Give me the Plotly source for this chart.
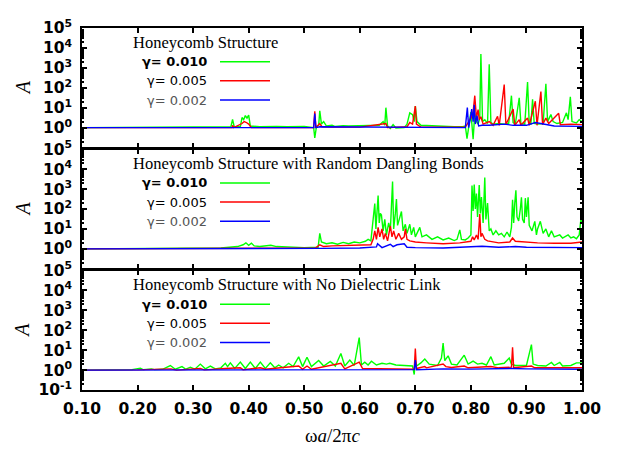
import plotly.graph_objects as go
from plotly.subplots import make_subplots

# ---------------- data (x = omega a / 2 pi c, A) ----------------
x_ticks = [0.10, 0.20, 0.30, 0.40, 0.50, 0.60, 0.70, 0.80, 0.90, 1.00]
x_ticklabels = ["0.10", "0.20", "0.30", "0.40", "0.50", "0.60", "0.70", "0.80", "0.90", "1.00"]
y_ticks = [1e-1, 1e0, 1e1, 1e2, 1e3, 1e4, 1e5]
y_ticklabels = ["10<sup>-1</sup>", "10<sup>0</sup>", "10<sup>1</sup>", "10<sup>2</sup>",
                "10<sup>3</sup>", "10<sup>4</sup>", "10<sup>5</sup>"]

panel_titles = ["Honeycomb Structure",
                "Honeycomb Structure with Random Dangling Bonds",
                "Honeycomb Structure with No Dielectric Link"]
series_names = ["γ= 0.010", "γ= 0.005", "γ= 0.002"]
series_colors = ["#00ff00", "#ff0000", "#0000ff"]

# Panel 1: Honeycomb Structure
p1_g010 = [(0.10, 1.0), (0.30, 1.02), (0.36, 1.05), (0.368, 1.1), (0.371, 2.6), (0.374, 1.1),
           (0.385, 1.1), (0.388, 3.2), (0.391, 2.5), (0.394, 4.0), (0.397, 3.0), (0.400, 4.2),
           (0.403, 1.2), (0.42, 1.1), (0.45, 1.15), (0.47, 1.1), (0.50, 1.15), (0.517, 1.0),
           (0.519, 0.3), (0.522, 1.1), (0.526, 1.3), (0.528, 7.0), (0.531, 1.5), (0.535, 2.0),
           (0.54, 1.2), (0.55, 1.3), (0.555, 1.15), (0.57, 1.25), (0.58, 1.2), (0.60, 1.25),
           (0.62, 1.2), (0.635, 1.3), (0.642, 2.0), (0.645, 1.3), (0.647, 10.0), (0.650, 1.2),
           (0.655, 0.9), (0.66, 1.4), (0.665, 0.95), (0.68, 1.0), (0.685, 1.5), (0.69, 5.5),
           (0.695, 4.5), (0.698, 2.0), (0.700, 12.0), (0.703, 2.0), (0.71, 1.3), (0.73, 1.2),
           (0.75, 1.2), (0.77, 1.1), (0.785, 1.1), (0.79, 1.2), (0.793, 0.28), (0.797, 1.5),
           (0.800, 6.0), (0.804, 0.26), (0.807, 5.0), (0.810, 2.0), (0.813, 1.5), (0.816, 3.0),
           (0.818, 5000.0), (0.821, 2.0), (0.825, 2.5), (0.830, 1.6), (0.833, 1500.0),
           (0.836, 1.8), (0.84, 1.5), (0.85, 1.6), (0.86, 1.5), (0.868, 1.6), (0.873, 40.0),
           (0.876, 1.8), (0.88, 1.5), (0.887, 31.0), (0.890, 1.6), (0.897, 1.5), (0.902, 195.0),
           (0.905, 1.6), (0.908, 1.5), (0.911, 26.0), (0.914, 1.6), (0.92, 1.5), (0.93, 1.6),
           (0.935, 160.0), (0.938, 2.0), (0.941, 3.0), (0.944, 4.5), (0.948, 2.0), (0.955, 1.6),
           (0.965, 1.8), (0.972, 5.5), (0.975, 2.5), (0.979, 35.0), (0.982, 2.0), (0.99, 1.7),
           (0.995, 2.5), (1.00, 2.0)]
p1_r005 = [(0.10, 1.0), (0.37, 1.0), (0.371, 1.3), (0.373, 1.0), (0.388, 1.6), (0.392, 2.0),
           (0.396, 1.8), (0.400, 1.5), (0.405, 1.0), (0.517, 1.0), (0.519, 6.6), (0.521, 1.0),
           (0.528, 1.6), (0.532, 1.1), (0.55, 1.05), (0.60, 1.05), (0.647, 1.6), (0.650, 1.0),
           (0.685, 1.1), (0.690, 1.8), (0.695, 1.5), (0.700, 12.0), (0.702, 1.5), (0.71, 1.05),
           (0.79, 1.05), (0.793, 1.5), (0.800, 3.0), (0.804, 6.0), (0.807, 40.0), (0.810, 3.0),
           (0.813, 8.0), (0.815, 2.5), (0.818, 3.5), (0.822, 1.5), (0.833, 2.0), (0.84, 1.3),
           (0.848, 3.7), (0.851, 1.3), (0.860, 145.0), (0.863, 1.4), (0.873, 5.0), (0.876, 8.5),
           (0.879, 1.3), (0.887, 2.5), (0.890, 1.3), (0.902, 3.0), (0.905, 1.3), (0.916, 21.0),
           (0.919, 1.3), (0.926, 65.0), (0.929, 1.4), (0.935, 3.0), (0.94, 1.6), (0.958, 5.2),
           (0.961, 1.4), (0.98, 1.5), (1.00, 1.4)]
p1_b002 = [(0.10, 1.0), (0.517, 1.0), (0.519, 5.0), (0.521, 1.0), (0.528, 1.1), (0.79, 1.0),
           (0.7936, 10.0), (0.796, 1.0), (0.799, 3.0), (0.8015, 8.5), (0.804, 2.0), (0.806, 13.8),
           (0.808, 1.5), (0.811, 4.0), (0.814, 1.2), (0.82, 1.3), (0.833, 1.3), (0.86, 1.5),
           (0.876, 1.3), (0.90, 1.3), (0.916, 1.8), (0.926, 1.6), (0.95, 1.2), (1.00, 1.15)]

# Panel 2: with Random Dangling Bonds
p2_g010 = [(0.10, 1.0), (0.20, 1.02), (0.30, 1.05), (0.35, 1.1), (0.38, 1.3), (0.39, 1.6),
           (0.395, 2.0), (0.40, 1.5), (0.405, 1.9), (0.41, 1.4), (0.42, 1.3), (0.44, 1.5),
           (0.45, 1.3), (0.47, 1.2), (0.50, 1.15), (0.525, 1.2), (0.528, 6.0), (0.531, 2.2),
           (0.54, 1.8), (0.55, 2.0), (0.56, 1.7), (0.57, 2.1), (0.58, 1.8), (0.59, 2.2),
           (0.60, 2.0), (0.61, 2.4), (0.615, 3.0), (0.620, 2.5), (0.624, 30.0), (0.627, 190.0),
           (0.629, 10.0), (0.631, 80.0), (0.633, 470.0), (0.635, 20.0), (0.637, 60.0),
           (0.639, 50.0), (0.642, 8.0), (0.645, 30.0), (0.648, 5.0), (0.652, 20.0), (0.655, 8.0),
           (0.659, 2400.0), (0.661, 10.0), (0.664, 60.0), (0.666, 320.0), (0.668, 15.0),
           (0.671, 30.0), (0.675, 75.0), (0.678, 8.0), (0.682, 17.0), (0.685, 6.0), (0.690, 17.0),
           (0.693, 5.0), (0.697, 12.0), (0.700, 4.0), (0.705, 8.0), (0.708, 12.0), (0.712, 4.0),
           (0.72, 5.0), (0.73, 3.0), (0.74, 4.0), (0.75, 2.8), (0.76, 3.5), (0.77, 2.6),
           (0.775, 3.0), (0.780, 9.0), (0.783, 3.0), (0.79, 2.8), (0.795, 3.5), (0.800, 5.0),
           (0.802, 1500.0), (0.804, 80.0), (0.806, 1700.0), (0.808, 100.0), (0.810, 600.0),
           (0.812, 40.0), (0.815, 1600.0), (0.817, 60.0), (0.819, 400.0), (0.822, 20.0),
           (0.825, 3800.0), (0.827, 30.0), (0.830, 200.0), (0.833, 8.0), (0.836, 10.0),
           (0.84, 5.0), (0.845, 8.0), (0.85, 5.0), (0.855, 6.0), (0.86, 4.0), (0.865, 7.0),
           (0.87, 4.0), (0.873, 12.0), (0.875, 290.0), (0.877, 20.0), (0.879, 200.0),
           (0.881, 870.0), (0.883, 40.0), (0.886, 25.0), (0.889, 100.0), (0.891, 390.0),
           (0.893, 30.0), (0.896, 20.0), (0.898, 350.0), (0.900, 40.0), (0.903, 390.0),
           (0.905, 15.0), (0.91, 8.0), (0.915, 24.0), (0.918, 5.0), (0.92, 10.0), (0.925, 24.0),
           (0.93, 6.0), (0.935, 10.0), (0.94, 4.0), (0.945, 8.0), (0.95, 4.0), (0.96, 5.0),
           (0.965, 3.5), (0.975, 5.0), (0.98, 3.5), (0.985, 4.0), (0.99, 3.2), (0.995, 5.0),
           (0.998, 30.0), (1.00, 20.0)]
p2_r005 = [(0.10, 1.0), (0.38, 1.02), (0.40, 1.1), (0.45, 1.05), (0.52, 1.1), (0.528, 1.6),
           (0.535, 1.3), (0.55, 1.4), (0.60, 1.45), (0.62, 1.6), (0.624, 3.0), (0.627, 8.0),
           (0.630, 3.0), (0.633, 12.0), (0.636, 4.0), (0.640, 10.0), (0.643, 3.0), (0.646, 6.0),
           (0.650, 2.5), (0.655, 14.0), (0.658, 4.0), (0.661, 8.0), (0.665, 3.0), (0.670, 6.0),
           (0.675, 3.0), (0.680, 4.0), (0.682, 10.0), (0.685, 3.0), (0.69, 2.5), (0.70, 2.2),
           (0.72, 2.0), (0.75, 1.8), (0.78, 2.0), (0.80, 2.4), (0.803, 4.0), (0.806, 2.8),
           (0.810, 5.0), (0.813, 3.0), (0.816, 56.0), (0.818, 4.0), (0.820, 6.0), (0.825, 3.0),
           (0.83, 2.5), (0.85, 2.0), (0.87, 2.2), (0.875, 3.5), (0.88, 2.4), (0.90, 2.1),
           (0.92, 2.0), (0.95, 1.9), (0.98, 1.9), (1.00, 2.2)]
p2_b002 = [(0.10, 1.0), (0.50, 1.0), (0.53, 1.05), (0.60, 1.1), (0.63, 1.25), (0.632, 1.8),
           (0.64, 1.15), (0.655, 1.7), (0.66, 1.3), (0.667, 1.6), (0.68, 1.8), (0.685, 1.2),
           (0.70, 1.15), (0.75, 1.1), (0.80, 1.25), (0.82, 1.35), (0.85, 1.2), (0.88, 1.3),
           (0.90, 1.2), (0.95, 1.15), (1.00, 1.15)]

# Panel 3: with No Dielectric Link
p3_g010 = [(0.10, 1.0), (0.14, 1.0), (0.15, 1.06), (0.16, 1.03), (0.19, 1.05), (0.205, 1.25),
           (0.21, 1.05), (0.225, 1.15), (0.23, 1.05), (0.245, 1.1), (0.259, 1.7), (0.268, 1.1),
           (0.28, 1.5), (0.287, 1.1), (0.295, 1.4), (0.303, 1.1), (0.313, 2.0), (0.322, 1.15),
           (0.331, 1.6), (0.34, 1.15), (0.35, 1.3), (0.358, 2.2), (0.362, 1.5), (0.367, 2.3),
           (0.375, 1.2), (0.385, 2.5), (0.394, 1.2), (0.403, 2.5), (0.412, 1.2), (0.421, 2.5),
           (0.43, 1.2), (0.439, 2.3), (0.447, 1.3), (0.454, 1.8), (0.462, 1.3), (0.472, 2.2),
           (0.48, 1.5), (0.49, 4.6), (0.497, 1.5), (0.505, 4.4), (0.513, 1.5), (0.526, 3.0),
           (0.535, 1.6), (0.547, 2.7), (0.556, 1.6), (0.566, 6.8), (0.573, 1.6), (0.582, 3.2),
           (0.59, 1.7), (0.599, 43.0), (0.603, 1.8), (0.609, 2.5), (0.615, 1.8), (0.621, 2.8),
           (0.63, 1.8), (0.64, 2.2), (0.648, 2.0), (0.654, 2.2), (0.665, 1.8), (0.68, 1.7),
           (0.695, 1.6), (0.698, 0.6), (0.700, 3.0), (0.702, 1.6), (0.71, 2.3), (0.717, 3.6),
           (0.725, 2.0), (0.74, 1.7), (0.747, 4.0), (0.750, 23.0), (0.753, 3.0), (0.759, 5.2),
           (0.765, 2.0), (0.775, 1.8), (0.788, 5.6), (0.795, 2.0), (0.804, 2.8), (0.812, 2.0),
           (0.82, 2.2), (0.828, 1.8), (0.836, 4.7), (0.842, 1.8), (0.85, 2.0), (0.86, 2.2),
           (0.869, 4.0), (0.873, 2.0), (0.88, 1.7), (0.90, 1.7), (0.909, 19.0), (0.912, 2.0),
           (0.92, 1.7), (0.935, 1.6), (0.945, 2.4), (0.95, 1.7), (0.96, 2.4), (0.965, 1.6),
           (0.98, 1.7), (0.99, 2.3), (1.00, 2.3)]
p3_r005 = [(0.10, 1.0), (0.20, 1.02), (0.26, 1.15), (0.27, 1.0), (0.313, 1.2), (0.32, 1.02),
           (0.358, 1.2), (0.385, 1.3), (0.39, 1.05), (0.421, 1.3), (0.43, 1.1), (0.49, 1.6),
           (0.497, 1.1), (0.505, 1.6), (0.513, 1.1), (0.566, 2.2), (0.573, 1.15), (0.599, 2.5),
           (0.605, 1.2), (0.65, 1.2), (0.698, 1.1), (0.700, 12.0), (0.702, 1.2), (0.717, 1.5),
           (0.72, 1.3), (0.750, 2.0), (0.755, 1.5), (0.765, 1.35), (0.788, 1.6), (0.795, 1.3),
           (0.836, 1.5), (0.85, 1.3), (0.873, 1.4), (0.875, 14.0), (0.877, 1.3), (0.909, 1.6),
           (0.915, 1.3), (1.00, 1.3)]
p3_b002 = [(0.10, 1.0), (0.40, 1.02), (0.50, 1.05), (0.60, 1.08), (0.65, 1.1), (0.698, 1.05),
           (0.700, 3.2), (0.702, 1.05), (0.75, 1.15), (0.80, 1.12), (0.875, 1.2), (0.90, 1.15),
           (1.00, 1.1)]

panels = [[p1_g010, p1_r005, p1_b002],
          [p2_g010, p2_r005, p2_b002],
          [p3_g010, p3_r005, p3_b002]]

# ---------------- figure ----------------
LW = 1.8                      # frame line width (px)
PLOT_H = 442 - 9 - 60         # plot-area height (px)
# a gap equal to the frame width lets adjacent panels' frame lines coincide
fig = make_subplots(rows=3, cols=1, shared_xaxes=True, vertical_spacing=LW / PLOT_H)

for r, series in enumerate(panels, start=1):
    for name, color, pts in zip(series_names, series_colors, series):
        fig.add_trace(go.Scatter(x=[p[0] for p in pts], y=[p[1] for p in pts], mode="lines",
                                 line=dict(color=color, width=1.4), name=name,
                                 showlegend=False), row=r, col=1)

tickfont = dict(family="DejaVu Sans", size=15.5, color="black", weight="bold")
for r in range(1, 4):
    fig.update_xaxes(row=r, col=1, range=[0.1, 1.0], tickvals=x_ticks, ticktext=x_ticklabels,
                     ticks="inside", ticklen=5, tickwidth=1.5, tickcolor="black",
                     showline=True, linewidth=LW, linecolor="black", mirror="allticks",
                     showgrid=False, zeroline=False, tickfont=tickfont, ticklabelstandoff=3)
    tv = y_ticks if r == 3 else y_ticks[1:]
    tt = y_ticklabels if r == 3 else y_ticklabels[1:]
    fig.update_yaxes(row=r, col=1, type="log", range=[-1, 5], tickvals=tv, ticktext=tt,
                     ticks="inside", ticklen=5, tickwidth=1.5, tickcolor="black",
                     minor=dict(ticks="inside", ticklen=2, tickcolor="black", dtick="D1"),
                     showline=True, linewidth=LW, linecolor="black", mirror="allticks",
                     showgrid=False, zeroline=False, tickfont=tickfont, ticklabelstandoff=5)

annotations = []
shapes = []
row_offsets = [0.718, 0.558, 0.397]
text_styles = [dict(color="black", weight="bold"), dict(color="black", weight="normal"),
               dict(color="#555555", weight="normal")]
for r in range(1, 4):
    yref = "y domain" if r == 1 else f"y{r} domain"
    xref = "x domain" if r == 1 else f"x{r} domain"
    annotations.append(dict(text=panel_titles[r - 1], xref=xref, yref=yref, x=0.098, y=0.879,
                            xanchor="left", yanchor="middle", showarrow=False,
                            font=dict(family="Liberation Serif", size=16.5, color="black")))
    for k in range(3):
        annotations.append(dict(text=series_names[k], xref=xref, yref=yref, x=0.254,
                                y=row_offsets[k], xanchor="right", yanchor="middle",
                                showarrow=False,
                                font=dict(family="DejaVu Sans", size=13, **text_styles[k])))
        shapes.append(dict(type="line", xref=xref, yref=yref, x0=0.276, x1=0.376,
                           y0=row_offsets[k], y1=row_offsets[k],
                           line=dict(color=series_colors[k], width=1.4)))
    annotations.append(dict(text="<i>A</i>", xref="paper", yref=yref, x=-0.119, y=0.5,
                            xanchor="center", yanchor="middle", showarrow=False, textangle=-90,
                            font=dict(family="Liberation Serif", size=20, color="black")))

annotations.append(dict(text="ω<i>a</i>/2π<i>c</i>", xref="paper", yref="paper", x=0.5, y=-0.126,
                        xanchor="center", yanchor="middle", showarrow=False,
                        font=dict(family="Liberation Serif", size=19, color="black")))

# page body has an 8px margin: size the figure so it fits the 624x450 window
fig.update_layout(width=616, height=442, margin=dict(l=74, r=42, t=9, b=60),
                  paper_bgcolor="white", plot_bgcolor="white",
                  annotations=annotations, shapes=shapes, showlegend=False)

fig.write_html("out.html")
